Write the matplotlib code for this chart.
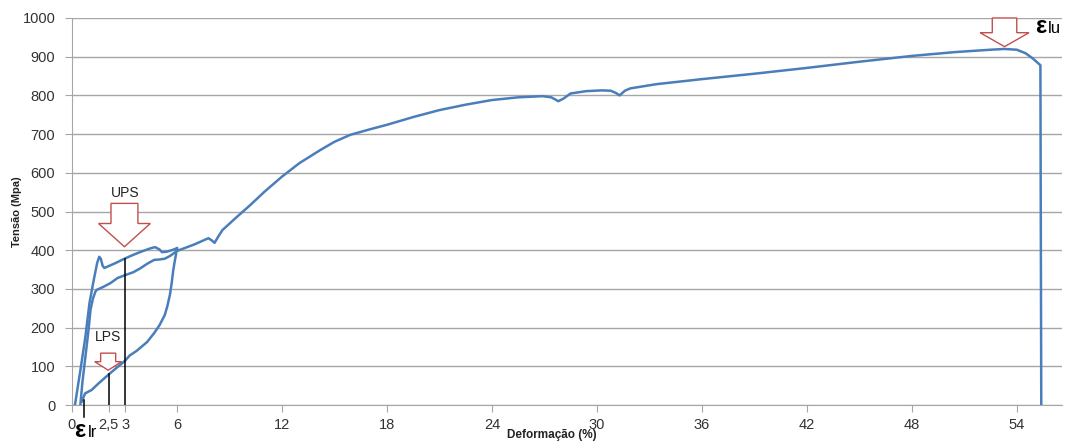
import matplotlib.pyplot as plt
from matplotlib.patches import Polygon

plt.rcParams['font.family'] = ['Liberation Sans', 'DejaVu Sans']

# first loading up to 6 %
load1_strain = [0.17, 0.5, 0.77, 1.0, 1.25, 1.44, 1.56, 1.65, 1.75, 1.85, 2.1, 2.5, 3.0, 3.5, 4.0,
                4.5, 4.75, 5.0, 5.15, 5.4, 5.7, 6.0]
load1_stress = [0, 95, 177, 263, 324, 367, 383, 378, 360, 354, 359, 367, 378, 388, 397,
                405, 408, 402, 395, 396, 400, 405]

# unloading
unload_strain = [6.0, 5.93, 5.85, 5.78, 5.7, 5.6, 5.45, 5.3, 5.0, 4.7, 4.3, 3.7, 3.3, 3.05, 2.1,
                 1.5, 1.13, 0.75, 0.56]
unload_stress = [405, 385, 365, 345, 315, 285, 255, 232, 206, 186, 163, 140, 128, 115, 79,
                 55, 39, 30, 9]

# reloading to rupture
reload_strain = [0.48, 0.6, 0.77, 0.95, 1.06, 1.2, 1.35, 1.44, 1.78, 2.2, 2.6, 3.0, 3.5, 3.9, 4.3,
                 4.7, 5.0, 5.3, 5.6, 6.0, 7.0, 7.8, 8.0, 8.15, 8.4, 8.6, 9.4, 10.2, 11.0, 12.0,
                 13.0, 14.2, 15.0, 15.9, 17.0, 18.0, 19.5, 21.0, 22.5, 24.0, 25.5, 26.9, 27.4,
                 27.8, 28.1, 28.5, 29.4, 30.3, 30.8, 31.1, 31.3, 31.6, 31.9, 33.4, 36.0, 39.0,
                 42.0, 45.0, 48.0, 50.5, 52.5, 53.3, 54.0, 54.5, 54.9, 55.35, 55.4]
reload_stress = [0, 60, 125, 195, 246, 275, 294, 298, 305, 315, 328, 335, 343, 353, 365,
                 375, 376, 378, 385, 398, 415, 431, 425, 419, 438, 452, 485, 517, 551, 590,
                 625, 659, 680, 698, 712, 724, 744, 762, 776, 788, 795, 798, 795,
                 785, 792, 805, 811, 813, 812, 806, 800, 812, 818, 829, 842, 856,
                 871, 887, 902, 912, 918, 920, 918, 909, 896, 878, 0]

x_ticks = [0, 2.1, 3.05, 6, 12, 18, 24, 30, 36, 42, 48, 54]
x_labels = ['0', '2,5', '3', '6', '12', '18', '24', '30', '36', '42', '48', '54']
y_ticks = [0, 100, 200, 300, 400, 500, 600, 700, 800, 900, 1000]

lr_strain = 0.69
lps_strain, lps_stress = 2.1, 80
ups_strain, ups_stress = 3.05, 378

blue = '#4a7ebb'
red = '#c0504d'
grid_c = '#a6a6a6'


def block_arrow(ax, x_tip, y_tip, y_base, y_top, shaft_hw, head_hw):
    pts = [(x_tip - shaft_hw, y_top), (x_tip + shaft_hw, y_top), (x_tip + shaft_hw, y_base),
           (x_tip + head_hw, y_base), (x_tip, y_tip), (x_tip - head_hw, y_base),
           (x_tip - shaft_hw, y_base)]
    ax.add_patch(Polygon(pts, closed=True, facecolor='white', edgecolor=red, lw=1.0,
                         zorder=4, clip_on=False))


fig = plt.figure(figsize=(10.66, 4.41), dpi=100)
ax = fig.add_axes([0.0675, 0.0816, 0.929, 0.8776])

ax.plot(load1_strain, load1_stress, color=blue, lw=1.8, zorder=3)
ax.plot(unload_strain, unload_stress, color=blue, lw=1.8, zorder=3)
ax.plot(reload_strain, reload_stress, color=blue, lw=1.8, zorder=3)

ax.plot([lr_strain, lr_strain], [-32, 12], color='black', lw=1.1, clip_on=False, zorder=5)
ax.plot([lps_strain, lps_strain], [0, lps_stress], color='black', lw=1.1, zorder=5)
ax.plot([ups_strain, ups_strain], [0, ups_stress], color='black', lw=1.1, zorder=5)

block_arrow(ax, 3.0, 409, 469, 521, 0.77, 1.48)
block_arrow(ax, 2.07, 90, 112, 134, 0.43, 0.77)
block_arrow(ax, 53.3, 926, 962, 1000, 0.7, 1.4)

ax.text(3.07, 548, 'UPS', ha='center', va='center', fontsize=10, color='#222222')
ax.text(2.07, 176, 'LPS', ha='center', va='center', fontsize=10, color='#222222')
ax.text(55.05, 960, 'ε', fontsize=17, fontweight='bold', va='baseline', ha='left',
        color='black', clip_on=False)
ax.text(55.8, 960, 'lu', fontsize=12, va='baseline', ha='left', color='black', clip_on=False)
ax.text(0.15, -83, 'ε', fontsize=17, fontweight='bold', va='baseline', ha='left',
        color='black', clip_on=False)
ax.text(0.9, -83, 'lr', fontsize=12, va='baseline', ha='left', color='black', clip_on=False)

ax.set_xlim(0, 56.6)
ax.set_ylim(0, 1000)
ax.set_xticks(x_ticks)
ax.set_xticklabels(x_labels)
ax.set_yticks(y_ticks)
ax.tick_params(axis='both', colors=grid_c, labelcolor='#333333', labelsize=10.5, length=5)
ax.tick_params(axis='y', pad=7)
ax.tick_params(axis='x', pad=4)

ax.grid(axis='y', color=grid_c, lw=1)
ax.set_axisbelow(True)
for s in ['top', 'right']:
    ax.spines[s].set_visible(False)
for s in ['left', 'bottom']:
    ax.spines[s].set_color(grid_c)

fig.text(0.518, 0.014, 'Deformação (%)', ha='center', va='center', fontsize=8.5,
         fontweight='bold', color='#222222')
fig.text(0.016, 0.519, 'Tensão (Mpa)', ha='center', va='center', fontsize=8, rotation=90,
         fontweight='bold', color='#222222')

fig.savefig('out.png', dpi=100)
